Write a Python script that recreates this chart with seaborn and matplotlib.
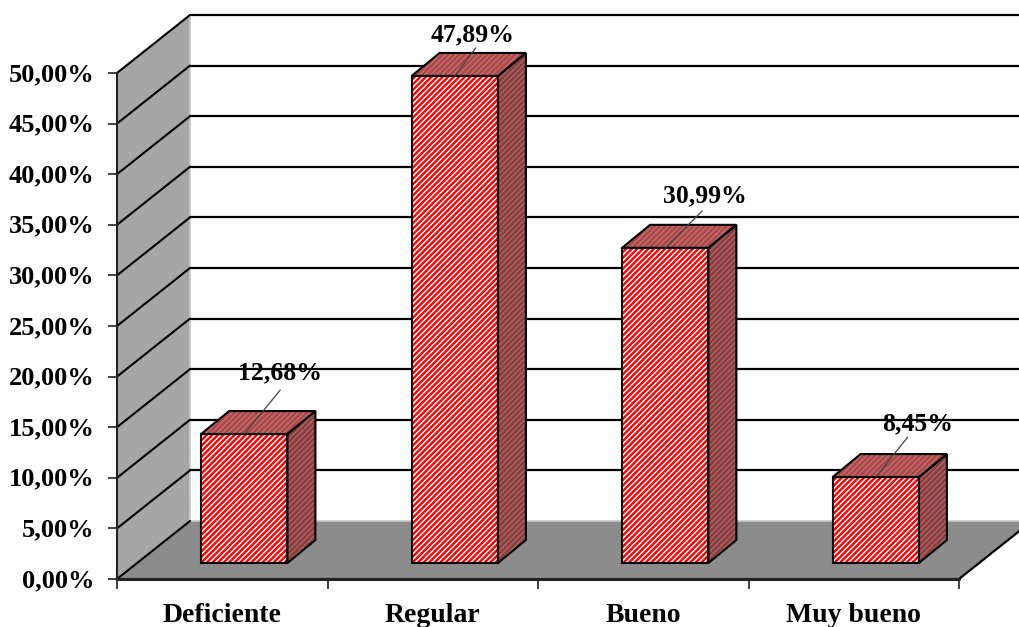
"""Valoracion por categoria: columnas 3D simuladas con seaborn."""
import matplotlib

matplotlib.use("Agg")
import matplotlib.pyplot as plt
import pandas as pd
import seaborn as sns
from matplotlib.patches import Polygon, Rectangle
from matplotlib.transforms import ScaledTranslation

CATEGORIES = ["Deficiente", "Regular", "Bueno", "Muy bueno"]
VALUES = [12.68, 47.89, 30.99, 8.45]
VALUE_LABELS = ["12,68%", "47,89%", "30,99%", "8,45%"]
Y_TICKS = [0, 5, 10, 15, 20, 25, 30, 35, 40, 45, 50]
Y_LABELS = ["0,00%", "5,00%", "10,00%", "15,00%", "20,00%", "25,00%",
            "30,00%", "35,00%", "40,00%", "45,00%", "50,00%"]

W, H = 1019, 627
X_UNIT = 210.5  # px per category
Y_UNIT = 10.12  # px per percent
WALL_DX, WALL_DY = 73 / X_UNIT, 58 / Y_UNIT
BAR_DX, BAR_DY = 28 / X_UNIT, 23 / 10.17

# leader end, offset from bar top centre, in px
LEADERS = [(36, 44), (21, 28), (37, 37), (32, 40)]
LABEL_POS = [(36, 61), (18, 41), (40, 52), (42, 53)]

sns.set_theme(style="white")
plt.rcParams["font.family"] = ["Liberation Serif", "DejaVu Serif"]
plt.rcParams["hatch.linewidth"] = 1.1

fig = plt.figure(figsize=(W / 100, H / 100), dpi=100, facecolor="white")
ax = fig.add_axes([117 / W, (H - 579) / H, 842 / W, 506 / H])
bar_ax = fig.add_axes([139 / W, (H - 563) / H, 842 / W, 508.5 / H])

for a in (ax, bar_ax):
    a.set_xlim(-0.5, 3.5)
    a.set_ylim(0, 50)
    a.patch.set_visible(False)

x0, x1 = ax.get_xlim()

# walls and floor
ax.add_patch(Polygon([(x0, 0), (x0 + WALL_DX, WALL_DY), (x0 + WALL_DX, 50 + WALL_DY), (x0, 50)],
                     fc="#a6a6a6", ec="none", clip_on=False, zorder=1))
ax.add_patch(Polygon([(x0, 0), (x1, 0), (x1 + WALL_DX, WALL_DY), (x0 + WALL_DX, WALL_DY)],
                     fc="#8c8c8c", ec="none", clip_on=False, zorder=1))
ax.plot([x0 + WALL_DX, x1 + WALL_DX], [WALL_DY, WALL_DY], color="#c8c8c8", lw=1.2,
        clip_on=False, zorder=1.2)
ax.plot([x0 + WALL_DX] * 2, [WALL_DY, 50 + WALL_DY], color="#c8c8c8", lw=1.2,
        clip_on=False, zorder=1.2)
ax.plot([x1, x1 + WALL_DX], [0, WALL_DY], color="black", lw=1.6, clip_on=False, zorder=2)
for t in Y_TICKS:
    ax.plot([x0, x0 + WALL_DX], [t, t + WALL_DY], color="black", lw=1.5, clip_on=False, zorder=2)
    if t > 0:
        ax.plot([x0 + WALL_DX, x1 + 2], [t + WALL_DY] * 2, color="black", lw=1.6,
                clip_on=False, zorder=2)
ax.plot([x0, x1], [0, 0], color="#222222", lw=2.2, clip_on=False, zorder=2)

# axes furniture
ax.set_xticks([i - 0.5 for i in range(len(CATEGORIES) + 1)])
ax.set_xticklabels([])
ax.set_yticks(Y_TICKS)
ax.set_yticklabels(Y_LABELS, fontsize=19, fontweight="bold", color="black")
ax.tick_params(axis="y", length=6.5, width=1.2, pad=9.5, color="#222222", left=True)
ax.tick_params(axis="x", length=7.5, width=1.2, color="#222222", bottom=True)
nudge = ScaledTranslation(0, 1 / 100, fig.dpi_scale_trans)
for lab in ax.get_yticklabels():
    lab.set_transform(lab.get_transform() + nudge)
sns.despine(ax=ax, top=True, right=True)
for side in ("left", "bottom"):
    ax.spines[side].set_color("#222222")
    ax.spines[side].set_linewidth(1.5)
for i, name in enumerate(CATEGORIES):
    ax.annotate(name, (i, 0), xytext=(0, -36 * 0.72), textcoords="offset points",
                ha="center", va="center", fontsize=20, fontweight="bold", color="black",
                annotation_clip=False)

# bars
df = pd.DataFrame({"categoria": CATEGORIES, "valor": VALUES})
sns.barplot(data=df, x="categoria", y="valor", ax=bar_ax, color="#ff0000", saturation=1,
            width=0.41, edgecolor="white", linewidth=0, hatch="//////", order=CATEGORIES)
bar_ax.set_xlim(x0, x1)
bar_ax.set_ylim(0, 50)
bar_ax.axis("off")

for i, p in enumerate(list(bar_ax.patches)):
    left, w, top = p.get_x(), p.get_width(), p.get_height()
    right = left + w
    bar_ax.add_patch(Rectangle((left, 0), w, top, fc="none", ec="black", lw=1.5, clip_on=False, zorder=4))
    side = [(right, 0), (right + BAR_DX, BAR_DY), (right + BAR_DX, top + BAR_DY), (right, top)]
    roof = [(left, top), (right, top), (right + BAR_DX, top + BAR_DY), (left + BAR_DX, top + BAR_DY)]
    bar_ax.add_patch(Polygon(side, fc="#8a3d3d", ec="#a86060", hatch="//////", lw=0, clip_on=False, zorder=3))
    bar_ax.add_patch(Polygon(roof, fc="#a84848", ec="#c46a6a", hatch="//////", lw=0, clip_on=False, zorder=3))
    bar_ax.add_patch(Polygon(side, fc="none", ec="black", lw=1.5, clip_on=False, zorder=4))
    bar_ax.add_patch(Polygon(roof, fc="none", ec="black", lw=1.5, clip_on=False, zorder=4))

    cx = left + w / 2
    lx, ly = LEADERS[i]
    bar_ax.annotate("", (cx, top), xytext=(lx * 0.72, ly * 0.72), textcoords="offset points",
                    arrowprops=dict(arrowstyle="-", color="#444444", lw=0.9, shrinkA=0, shrinkB=0),
                    annotation_clip=False, zorder=5)
    tx, ty = LABEL_POS[i]
    bar_ax.annotate(VALUE_LABELS[i], (cx, top), xytext=(tx * 0.72, ty * 0.72), textcoords="offset points",
                    ha="center", va="center", fontsize=18.5, fontweight="bold", color="black",
                    annotation_clip=False, zorder=6)

fig.savefig("out.png", dpi=100)
plt.close(fig)
